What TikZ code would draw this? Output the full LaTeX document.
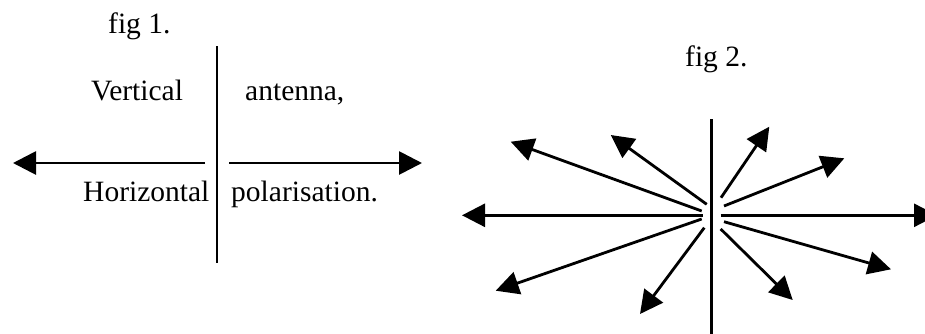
\documentclass[tikz,border=0pt]{standalone}
\usepackage{fontspec}
\setmainfont{Liberation Serif}
\usetikzlibrary{arrows.meta}
\begin{document}
\begin{tikzpicture}[x=1pt,y=-1pt,
  lbl/.style={anchor=base west,inner sep=0pt,font=\fontsize{29.5}{34}\selectfont},
  ray/.style={line width=2.8pt,-{Triangle[length=23pt,width=23pt]}},
  pole/.style={line width=2.8pt}]
\useasboundingbox (0,0) rectangle (925,333);
% fig 1
\node[lbl] (f1) at (108,33) {fig 1.};
\node[lbl] (v) at (91,100.5) {Vertical};
\node[lbl] (a) at (245,100.5) {antenna,};
\node[lbl] (h) at (83,201.5) {Horizontal};
\node[lbl] (p) at (231,201.5) {polarisation.};
\coordinate (p1t) at (217,46);
\coordinate (p1b) at (217,263);
\draw[pole] (p1t) -- (p1b);
\coordinate (l1s) at (205,163);
\coordinate (l1e) at (13,163);
\coordinate (r1s) at (229,163);
\coordinate (r1e) at (422,163);
\draw[ray] (l1s) -- (l1e);
\draw[ray] (r1s) -- (r1e);
% fig 2
\node[lbl] (f2) at (685,66) {fig 2.};
\coordinate (p2t) at (711.7,119);
\coordinate (p2b) at (711.7,340);
\draw[pole] (p2t) -- (p2b);
\coordinate (hls) at (702.5,215.3);
\coordinate (hle) at (462,215.3);
\coordinate (hrs) at (720.5,215.3);
\coordinate (hre) at (937,215.3);
\draw[ray] (hls) -- (hle);
\draw[ray] (hrs) -- (hre);
\coordinate (ul1s) at (701.7,211);
\coordinate (ul1e) at (510.7,141.7);
\coordinate (ul2s) at (706.7,204.3);
\coordinate (ul2e) at (610.7,135);
\coordinate (ur1s) at (721,197.7);
\coordinate (ur1e) at (769.3,126.7);
\coordinate (ur2s) at (724,206);
\coordinate (ur2e) at (844.3,158.3);
\coordinate (ll1s) at (701.7,219);
\coordinate (ll1e) at (495.7,290.7);
\coordinate (ll2s) at (704.3,227.7);
\coordinate (ll2e) at (640,314);
\coordinate (lr1s) at (720.7,229);
\coordinate (lr1e) at (792.7,300);
\coordinate (lr2s) at (724,221.7);
\coordinate (lr2e) at (891,269.3);
\draw[ray] (ul1s) -- (ul1e);
\draw[ray] (ul2s) -- (ul2e);
\draw[ray] (ur1s) -- (ur1e);
\draw[ray] (ur2s) -- (ur2e);
\draw[ray] (ll1s) -- (ll1e);
\draw[ray] (ll2s) -- (ll2e);
\draw[ray] (lr1s) -- (lr1e);
\draw[ray] (lr2s) -- (lr2e);
\end{tikzpicture}
\end{document}
